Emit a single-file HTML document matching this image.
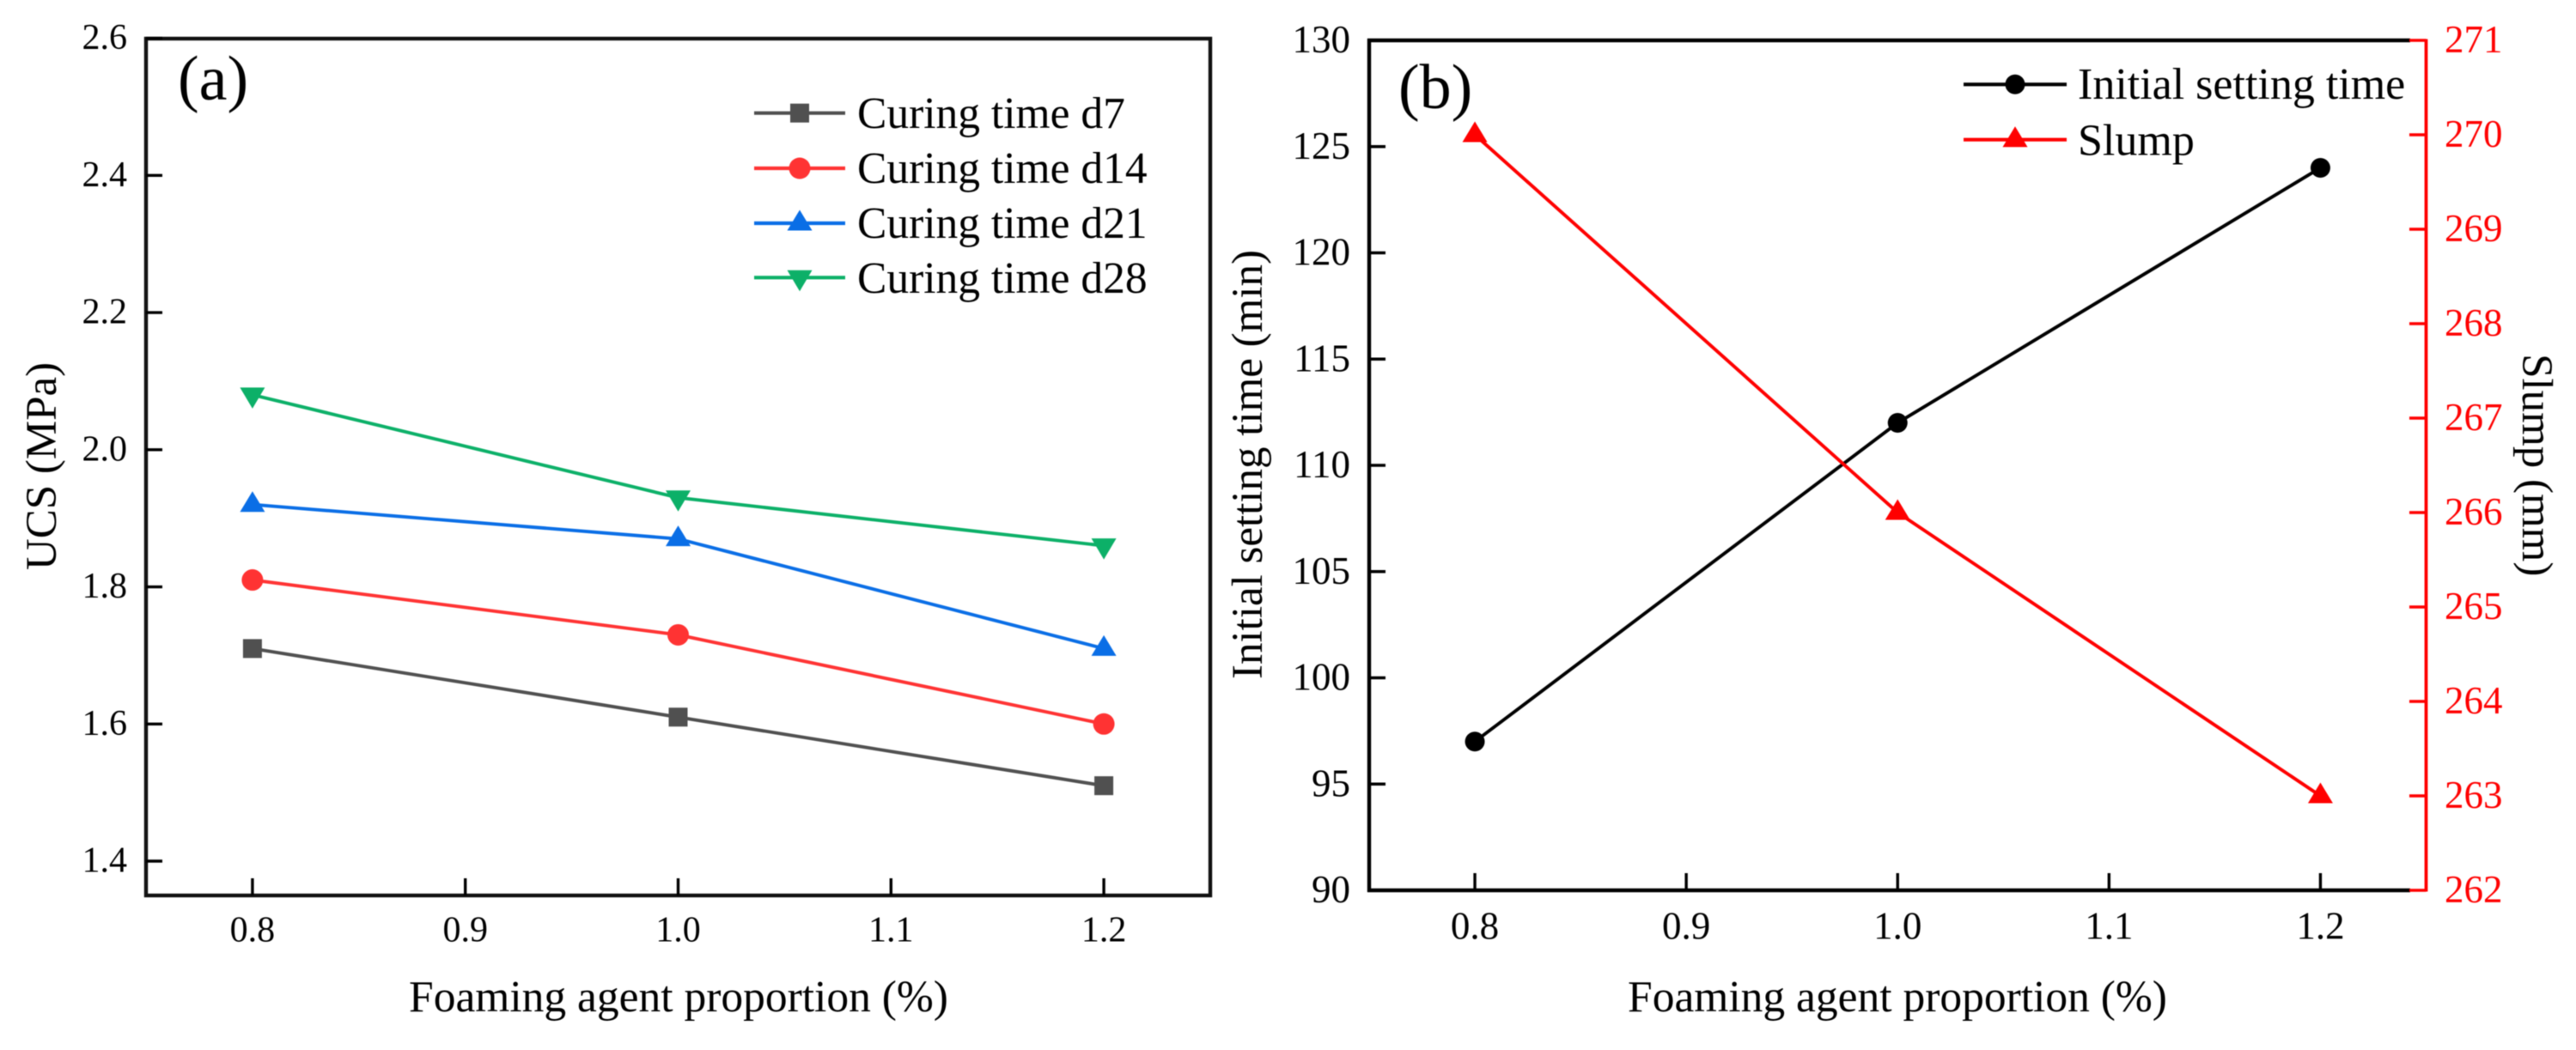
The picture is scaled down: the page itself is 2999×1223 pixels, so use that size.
<!DOCTYPE html>
<html lang="en">
<head>
<meta charset="utf-8">
<title>UCS, setting time and slump versus foaming agent proportion</title>
<style>
html,body{margin:0;padding:0;background:#fff;}
body{width:2999px;height:1223px;overflow:hidden;}
svg{display:block;filter:blur(0.45px);}
text{font-family:"Liberation Serif",serif;fill:#000;}
</style>
</head>
<body>
<svg id="figure" xmlns="http://www.w3.org/2000/svg" width="2999" height="1223" viewBox="0 0 2999 1223">
  <rect x="0" y="0" width="2999" height="1223" fill="#fff"/>
  <g id="panel-a">
    <rect x="170" y="45" width="1239" height="998" fill="none" stroke="#111" stroke-width="4.4"/>
    <text x="207" y="116" font-size="74">(a)</text>
    <text x="790" y="1178" font-size="51.5" text-anchor="middle">Foaming agent proportion (%)</text>
    <text transform="translate(65,543) rotate(-90)" font-size="51" text-anchor="middle">UCS (MPa)</text>
    <text x="998" y="149" font-size="51.5">Curing time d7</text>
    <text x="998" y="213" font-size="51.5">Curing time d14</text>
    <text x="998" y="277" font-size="51.5">Curing time d21</text>
    <text x="998" y="341" font-size="51.5">Curing time d28</text>
  </g>
  <g id="panel-b">
    <line x1="1594" y1="45" x2="1594" y2="1039" stroke="#000" stroke-width="4.4"/>
    <line x1="1592" y1="47" x2="2806" y2="47" stroke="#000" stroke-width="4.4"/>
    <line x1="1592" y1="1037" x2="2806" y2="1037" stroke="#000" stroke-width="4.4"/>
    <line x1="2824.5" y1="45.5" x2="2824.5" y2="1038.5" stroke="#ff0000" stroke-width="3.8"/>
    <text x="1628" y="126" font-size="74">(b)</text>
    <text x="2209" y="1178" font-size="51.5" text-anchor="middle">Foaming agent proportion (%)</text>
    <text transform="translate(1469,541) rotate(-90)" font-size="51" text-anchor="middle">Initial setting time (min)</text>
    <text transform="translate(2937,541.7) rotate(90)" font-size="51" text-anchor="middle">Slump (mm)</text>
    <text x="2419" y="115" font-size="52">Initial setting time</text>
    <text x="2419" y="180.5" font-size="52">Slump</text>
  </g>
</svg>
<script>
// Chart data
const foamingX = [0.8, 1.0, 1.2];
const curingD7 = [1.71, 1.61, 1.51];
const curingD14 = [1.81, 1.73, 1.60];
const curingD21 = [1.92, 1.87, 1.71];
const curingD28 = [2.08, 1.93, 1.86];
const initialSetting = [97, 112, 124];
const slump = [270, 266, 263];
const xTicks = [0.8, 0.9, 1.0, 1.1, 1.2];
const xTickLabels = ['0.8', '0.9', '1.0', '1.1', '1.2'];
const ucsTicks = [1.4, 1.6, 1.8, 2.0, 2.2, 2.4, 2.6];
const ucsTickLabels = ['1.4', '1.6', '1.8', '2.0', '2.2', '2.4', '2.6'];
const settingTicks = [90, 95, 100, 105, 110, 115, 120, 125, 130];
const settingTickLabels = ['90', '95', '100', '105', '110', '115', '120', '125', '130'];
const slumpTicks = [262, 263, 264, 265, 266, 267, 268, 269, 270, 271];
const slumpTickLabels = ['262', '263', '264', '265', '266', '267', '268', '269', '270', '271'];

// Axis functions
function linear(d0, d1, r0, r1) {
  return function (v) { return r0 + (v - d0) * (r1 - r0) / (d1 - d0); };
}
const xA = linear(0.75, 1.25, 170, 1409);
const yA = linear(1.4, 2.6, 1003, 44.6);
const xB = linear(0.75, 1.25, 1594, 2824.5);
const yBL = linear(90, 130, 1037, 47);
const yBR = linear(262, 271, 1037, 47);

const NS = 'http://www.w3.org/2000/svg';
function make(tag, parent, geom) {
  const el = document.createElementNS(NS, tag);
  for (const k in geom) el.setAttribute(k, geom[k]);
  parent.appendChild(el);
  return el;
}
function drawMarker(parent, kind, cx, cy, fill, name) {
  let el;
  if (kind === 'square') {
    el = make('rect', parent, { x: cx - 11, y: cy - 11, width: 22, height: 22, fill: fill });
  } else if (kind === 'circle') {
    el = make('circle', parent, { cx: cx, cy: cy, r: 12.5, fill: fill });
  } else if (kind === 'dot') {
    el = make('circle', parent, { cx: cx, cy: cy, r: 11.5, fill: fill });
  } else if (kind === 'up') {
    el = make('polygon', parent, { points: (cx) + ',' + (cy - 15.5) + ' ' + (cx - 14.5) + ',' + (cy + 8.5) + ' ' + (cx + 14.5) + ',' + (cy + 8.5), fill: fill });
  } else {
    el = make('polygon', parent, { points: (cx - 14.5) + ',' + (cy - 8.5) + ' ' + (cx + 14.5) + ',' + (cy - 8.5) + ' ' + (cx) + ',' + (cy + 16), fill: fill });
  }
  
  
  return el;
}
function drawSeries(parent, name, xs, ys, xf, yf, color, kind) {
  const g = make('g', parent, {});
  
  
  const pts = xs.map(function (v, i) { return xf(v) + ',' + yf(ys[i]); }).join(' ');
  const line = make('polyline', g, { points: pts, fill: 'none', stroke: color, 'stroke-width': 3.9 });
  
  
  xs.forEach(function (v, i) {
    drawMarker(g, kind, xf(v), yf(ys[i]), color, 'point-' + name + '-' + i);
  });
}
function drawLegendKey(parent, name, x0, x1, y, color, kind) {
  const g = make('g', parent, {});
  
  
  const line = make('line', g, { x1: x0, y1: y, x2: x1, y2: y, stroke: color, 'stroke-width': 4.2 });
  
  
  drawMarker(g, kind, (x0 + x1) / 2, y, color, 'legend-marker-' + name);
}
function drawXTicks(parent, prefix, xf, axisY, labelY, size) {
  xTicks.forEach(function (v, i) {
    const t = make('line', parent, { x1: xf(v), y1: axisY - 20, x2: xf(v), y2: axisY, stroke: '#000', 'stroke-width': 3.4 });
    
    
    const l = make('text', parent, { x: xf(v), y: labelY, 'font-size': size, 'text-anchor': 'middle' });
    l.textContent = xTickLabels[i];
    
    
  });
}
function drawLeftTicks(parent, prefix, ticks, labels, yf, axisX, labelX, size, dy) {
  ticks.forEach(function (v, i) {
    const t = make('line', parent, { x1: axisX, y1: yf(v), x2: axisX + 19, y2: yf(v), stroke: '#000', 'stroke-width': 3.4 });
    
    
    const l = make('text', parent, { x: labelX, y: yf(v) + dy, 'font-size': size, 'text-anchor': 'end' });
    l.textContent = labels[i];
    
    
  });
}

const panelA = document.getElementById('panel-a');
const panelB = document.getElementById('panel-b');

// Panel (a)
drawXTicks(panelA, 'a', xA, 1043, 1096.7, 42);
drawLeftTicks(panelA, 'a', ucsTicks, ucsTickLabels, yA, 170, 148, 42, 12.6);
drawSeries(panelA, 'd7', foamingX, curingD7, xA, yA, '#505050', 'square');
drawSeries(panelA, 'd14', foamingX, curingD14, xA, yA, '#ff3333', 'circle');
drawSeries(panelA, 'd21', foamingX, curingD21, xA, yA, '#0a6ee6', 'up');
drawSeries(panelA, 'd28', foamingX, curingD28, xA, yA, '#0cb068', 'down');
drawLegendKey(panelA, 'd7', 878, 984, 131.7, '#505050', 'square');
drawLegendKey(panelA, 'd14', 878, 984, 196, '#ff3333', 'circle');
drawLegendKey(panelA, 'd21', 878, 984, 260, '#0a6ee6', 'up');
drawLegendKey(panelA, 'd28', 878, 984, 323.3, '#0cb068', 'down');

// Panel (b)
drawXTicks(panelB, 'b', xB, 1037, 1093.3, 45);
drawLeftTicks(panelB, 'b', settingTicks, settingTickLabels, yBL, 1594, 1572, 45, 14);
slumpTicks.forEach(function (v, i) {
  const t = make('line', panelB, { x1: 2805, y1: yBR(v), x2: 2824.5, y2: yBR(v), stroke: '#ff0000', 'stroke-width': 3.6 });
  
  
  const l = make('text', panelB, { x: 2846, y: yBR(v) + 14, 'font-size': 45, style: 'fill:#ff0000' });
  l.textContent = slumpTickLabels[i];
  
  
});
drawSeries(panelB, 'initial-setting', foamingX, initialSetting, xB, yBL, '#000000', 'dot');
drawSeries(panelB, 'slump', foamingX, slump, xB, yBR, '#ff0000', 'up');
drawLegendKey(panelB, 'initial-setting', 2286, 2406, 98.3, '#000000', 'dot');
drawLegendKey(panelB, 'slump', 2286, 2406, 162.7, '#ff0000', 'up');
</script>
</body>
</html>
